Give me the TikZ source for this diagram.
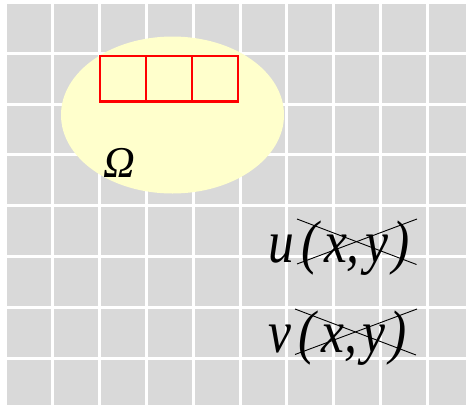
\documentclass[tikz,border=0pt]{standalone}
\usepackage{fontspec}
\usetikzlibrary{shapes.geometric}
\setmainfont{Liberation Serif}
\definecolor{cellgray}{HTML}{D9D9D9}
\definecolor{lightyellow}{HTML}{FFFFCC}
\definecolor{redline}{HTML}{FF0000}
\tikzset{
  gridline/.style={white,line width=3pt},
  redbox/.style={draw=redline,line width=2.2pt,outer sep=0pt,inner sep=0pt,minimum width=46pt,minimum height=45.5pt},
  mathtext/.style={inner sep=0pt,anchor=base west,font=\fontsize{60}{60}\selectfont\itshape},
  strike/.style={black,line width=0.9pt}
}
\newcommand{\squeezed}[1]{\scalebox{0.86}[1]{#1}}
\newcommand{\fxy}[1]{#1\kern9pt(\kern6pt x,\kern6pt y\kern5pt)}
\begin{document}
\begin{tikzpicture}[x=1pt,y=-1pt]
\useasboundingbox (0,0) rectangle (466,405);
\fill[white] (0,0) rectangle (466,405);
\fill[cellgray] (7,4) rectangle (466,405);
\foreach \k in {0,...,9} \draw[gridline] ({5.5+46.9*\k},0) -- ({5.5+46.9*\k},405);
\foreach \k in {0,...,7} \draw[gridline] (0,{2.5+50.8*\k}) -- (466,{2.5+50.8*\k});
\node[ellipse,fill=lightyellow,minimum width=223pt,minimum height=157pt,inner sep=0pt] (omega) at (172.5,115) {};
\node[redbox,anchor=north west] (r1) at (100,56) {};
\node[redbox,anchor=west] (r2) at (r1.east) {};
\node[redbox,anchor=west] (r3) at (r2.east) {};
\node[inner sep=0pt,anchor=base west,font=\fontsize{44}{44}\selectfont\itshape] (lab) at (103,177) {Ω};
\node[mathtext] (u) at (268,262) {\squeezed{\fxy{u}}};
\node[mathtext] (v) at (268,352) {\squeezed{\fxy{v}}};
\coordinate (ua) at (297,219); \coordinate (ub) at (416.5,264.5);
\coordinate (uc) at (297,264); \coordinate (ud) at (417,219);
\coordinate (va) at (295,309); \coordinate (vb) at (416,355);
\coordinate (vc) at (295,354.5); \coordinate (vd) at (417,309);
\draw[strike] (ua) -- (ub);
\draw[strike] (uc) -- (ud);
\draw[strike] (va) -- (vb);
\draw[strike] (vc) -- (vd);
\end{tikzpicture}
\end{document}
